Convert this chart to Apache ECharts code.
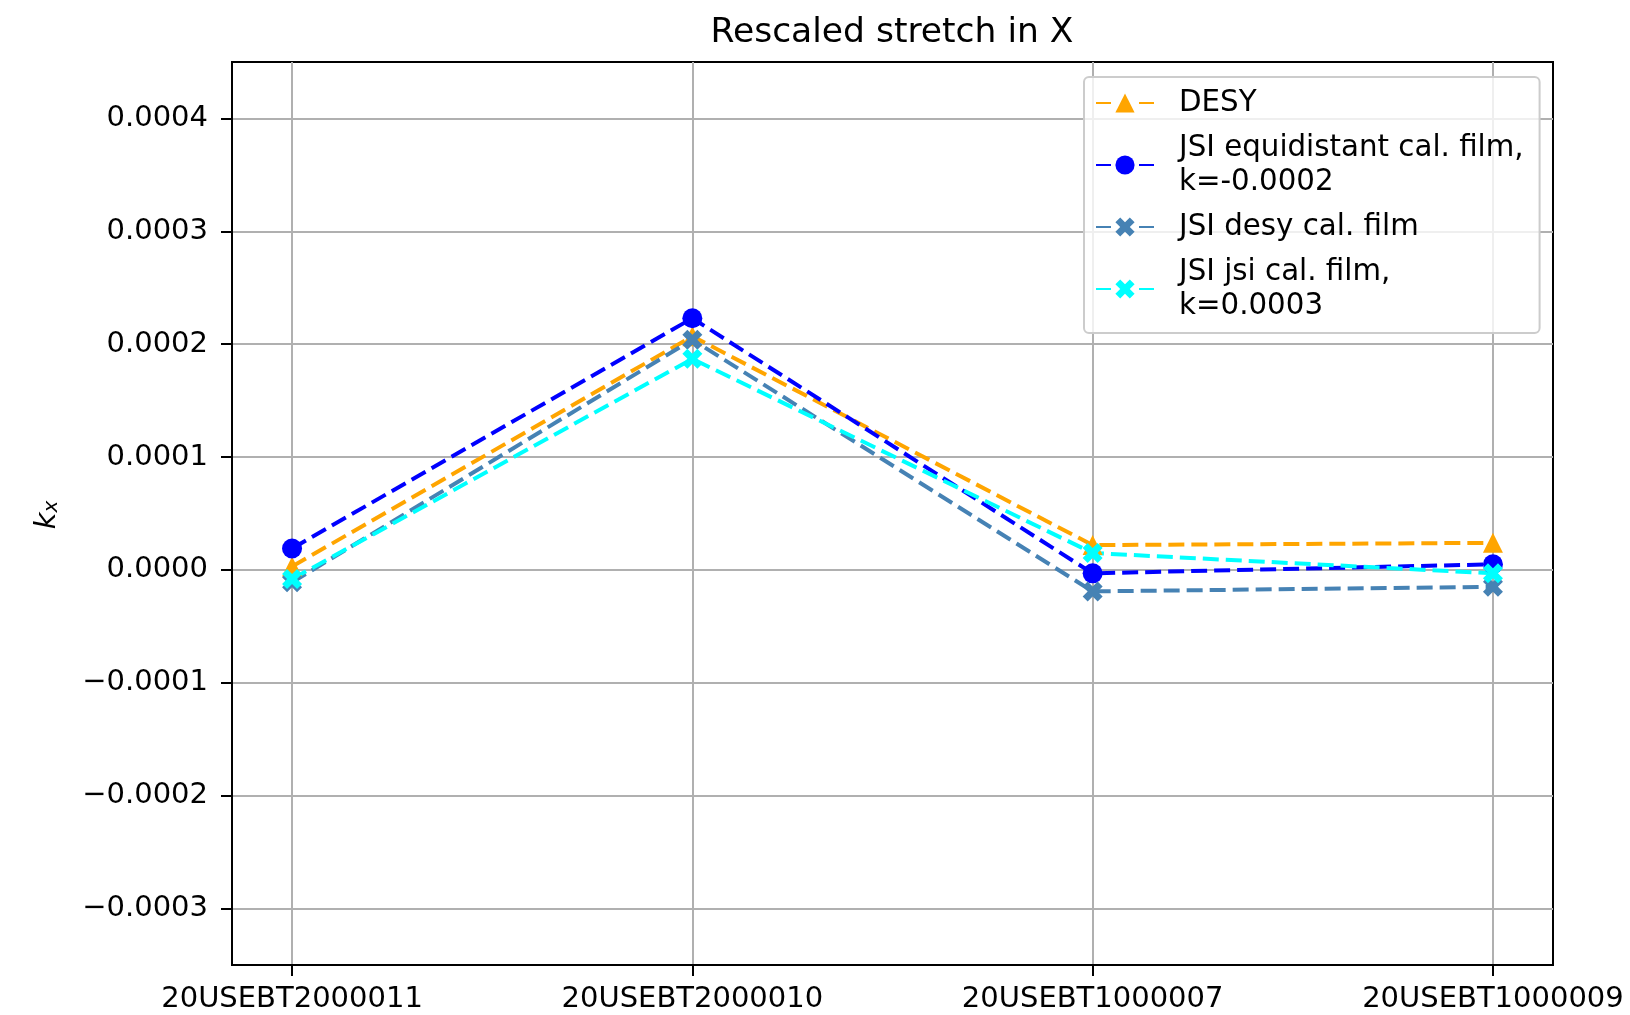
<!DOCTYPE html>
<html>
<head>
<meta charset="utf-8">
<script src="https://cdn.jsdelivr.net/npm/echarts@6/dist/echarts.min.js"></script>
<style>
html,body{margin:0;padding:0;background:#fff;}
#chart{width:1630px;height:1015px;}
</style>
</head>
<body>
<div id="chart"></div>
<script>
const categories = ['20USEBT2000011', '20USEBT2000010', '20USEBT1000007', '20USEBT1000009'];
const desy = [0.000003, 0.000207, 0.000022, 0.000024];
const jsiEquidistant = [0.000019, 0.000223, -0.000003, 0.000005];
const jsiDesyFilm = [-0.000011, 0.000204, -0.000019, -0.000015];
const jsiJsiFilm = [-0.000008, 0.000187, 0.000015, -0.000003];
const seriesNames = ['DESY', 'JSI equidistant cal. film,\nk=-0.0002', 'JSI desy cal. film', 'JSI jsi cal. film,\nk=0.0003'];
const yTicks = [-0.0003, -0.0002, -0.0001, 0, 0.0001, 0.0002, 0.0003, 0.0004];
const xTicks = [0, 1, 2, 3];

const FONT = 'DejaVu Sans';
const X_PATH = 'path://M25,0L50,25L75,0L100,25L75,50L100,75L75,100L50,75L25,100L0,75L25,50L0,25Z';

function pts(arr) { return arr.map((v, i) => [i, v]); }

function mk(name, data, color, symbol) {
  return {
    name: name,
    type: 'line',
    data: pts(data),
    symbol: symbol,
    symbolSize: 20,
    showSymbol: true,
    lineStyle: { color: color, width: 4, type: [16, 7] },
    itemStyle: { color: color, borderColor: color, borderWidth: 0 },
    emphasis: { disabled: true }
  };
}

const chart = echarts.init(document.getElementById('chart'), null, { renderer: 'canvas' });
chart.setOption({
  animation: false,
  backgroundColor: '#fff',
  grid: {
    left: 232, right: 77, top: 62, bottom: 50,
    show: true, borderColor: '#000', borderWidth: 2, backgroundColor: 'transparent'
  },
  graphic: [
    {
      type: 'text', x: 892, y: 33,
      style: { text: 'Rescaled stretch in X', font: '34.5px "DejaVu Sans"', fill: '#000', align: 'center', verticalAlign: 'middle' }
    },
    {
      type: 'text', x: 47, y: 515, rotation: Math.PI / 2,
      style: {
        text: '{k|k}{x|x}',
        align: 'center', verticalAlign: 'middle',
        rich: {
          k: { fontSize: 29, fontStyle: 'italic', fontFamily: FONT, fill: '#000', color: '#000' },
          x: { fontSize: 20, fontStyle: 'italic', fontFamily: FONT, fill: '#000', color: '#000', verticalAlign: 'bottom' }
        }
      }
    }
  ],
  legend: {
    orient: 'vertical',
    left: 1084, top: 77,
    itemWidth: 58, itemHeight: 24, itemGap: 11,
    padding: [9, 16, 10, 11],
    borderColor: '#cccccc', borderWidth: 2, borderRadius: 5,
    backgroundColor: 'rgba(255,255,255,0.8)',
    lineStyle: { type: [15, 28] },
    textStyle: { fontSize: 29.3, fontFamily: FONT, color: '#000', lineHeight: 34, padding: [0, 0, 0, 20] },
    data: seriesNames
  },
  xAxis: {
    type: 'value',
    min: -0.15, max: 3.15,
    axisLine: { show: true, onZero: false, lineStyle: { color: '#000', width: 2 } },
    axisTick: { show: true, inside: false, customValues: xTicks, length: 11, lineStyle: { color: '#000', width: 2 } },
    axisLabel: {
      customValues: xTicks, margin: 20, fontSize: 29, fontFamily: FONT, color: '#000',
      formatter: v => categories[Math.round(v)]
    },
    splitLine: { show: true, lineStyle: { color: '#b0b0b0', width: 2 } }
  },
  yAxis: {
    type: 'value',
    min: -0.00035, max: 0.00045,
    axisLine: { show: true, onZero: false, lineStyle: { color: '#000', width: 2 } },
    axisTick: { show: true, inside: false, customValues: yTicks, length: 11, lineStyle: { color: '#000', width: 2 } },
    axisLabel: {
      customValues: yTicks, margin: 24, fontSize: 29, fontFamily: FONT, color: '#000',
      formatter: v => v.toFixed(4).replace('-', '\u2212')
    },
    splitLine: { show: true, lineStyle: { color: '#b0b0b0', width: 2 } }
  },
  series: [
    mk(seriesNames[0], desy, '#FFA500', 'triangle'),
    mk(seriesNames[1], jsiEquidistant, '#0000FF', 'circle'),
    mk(seriesNames[2], jsiDesyFilm, '#4682B4', X_PATH),
    mk(seriesNames[3], jsiJsiFilm, '#00FFFF', X_PATH)
  ]
});
</script>
</body>
</html>
